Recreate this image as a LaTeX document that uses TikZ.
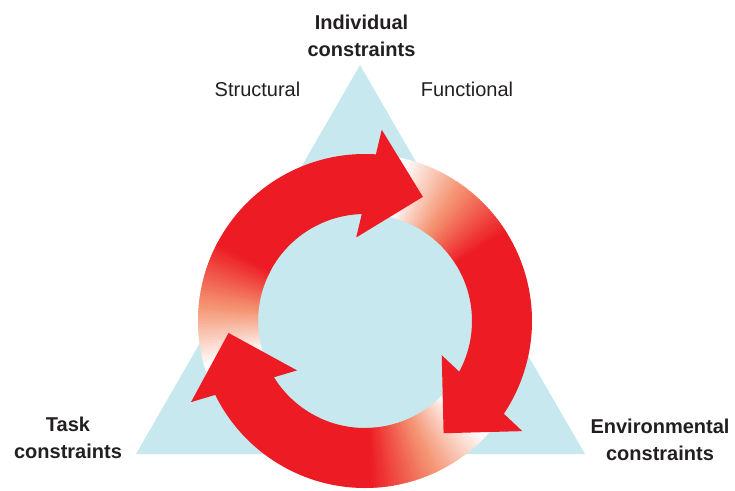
\documentclass[tikz,border=0pt]{standalone}
\usepackage{fontspec}
\setmainfont{Liberation Sans}
\usetikzlibrary{positioning}

\definecolor{panelblue}{RGB}{199,232,238}
\definecolor{arrowred}{RGB}{237,28,36}
\definecolor{fadesalmon}{RGB}{244,146,112}
\definecolor{textgrey}{RGB}{35,31,32}

\newcommand{\rin}{107}
\newcommand{\rout}{167}
% one piece of the ring between two angles
\newcommand{\ringpiece}[3]{%
  \fill[#3] (#1:\rin) arc[start angle=#1, end angle=#2, radius=\rin]
    -- (#2:\rout) arc[start angle=#2, end angle=#1, radius=\rout] -- cycle;}

\tikzset{
  maintext/.style={font=\fontsize{20}{27}\selectfont\bfseries, text=textgrey, align=center, anchor=base},
  sidetext/.style={font=\fontsize{20}{27}\selectfont, text=textgrey, anchor=base}
}

\begin{document}
\begin{tikzpicture}[x=1pt, y=1pt]
  \useasboundingbox (-365,-169) rectangle (370,321);
  % triangle
  \fill[panelblue] (-5,256) coordinate (indiv) -- (220,-133) coordinate (envir)
    -- (-229,-133) coordinate (task) -- cycle;
  % shafts: white tail, fade, red
  \foreach \s/\e in {204/84, 84/-36, -36/-156} {
    \pgfmathsetmacro\whiteto{\s-8}
    \pgfmathsetmacro\redfrom{\s-52}
    \ringpiece{\s}{\whiteto}{white}
    \foreach \k in {0,...,43} {
      \pgfmathsetmacro\segA{\whiteto-\k}
      \pgfmathsetmacro\segB{\whiteto-\k-1.6}
      \ifnum\k<22
        \pgfmathtruncatemacro\p{4.6*\k+3}
        \colorlet{segcol}{fadesalmon!\p!white}
      \else
        \pgfmathtruncatemacro\p{4.6*(\k-22)+3}
        \colorlet{segcol}{arrowred!\p!fadesalmon}
      \fi
      \ringpiece{\segA}{\segB}{segcol}
    }
    \ringpiece{\redfrom}{\e}{arrowred}
  }
  % heads
  \foreach \h in {90,-30,210}
    \fill[arrowred] (\h-5:192) -- (\h-25:137) -- (\h+6:84) -- cycle;
  % labels
  \node[maintext] (indivtext) at (-3.5,264) {Individual\\constraints};
  \node[sidetext] (structtext) at (-107.5,224) {Structural};
  \node[sidetext] (functext) at (102,224) {Functional};
  \node[maintext] (tasktext) at (-297,-137) {Task\\constraints};
  \node[maintext] (envtext) at (295,-139) {Environmental\\constraints};
\end{tikzpicture}
\end{document}
